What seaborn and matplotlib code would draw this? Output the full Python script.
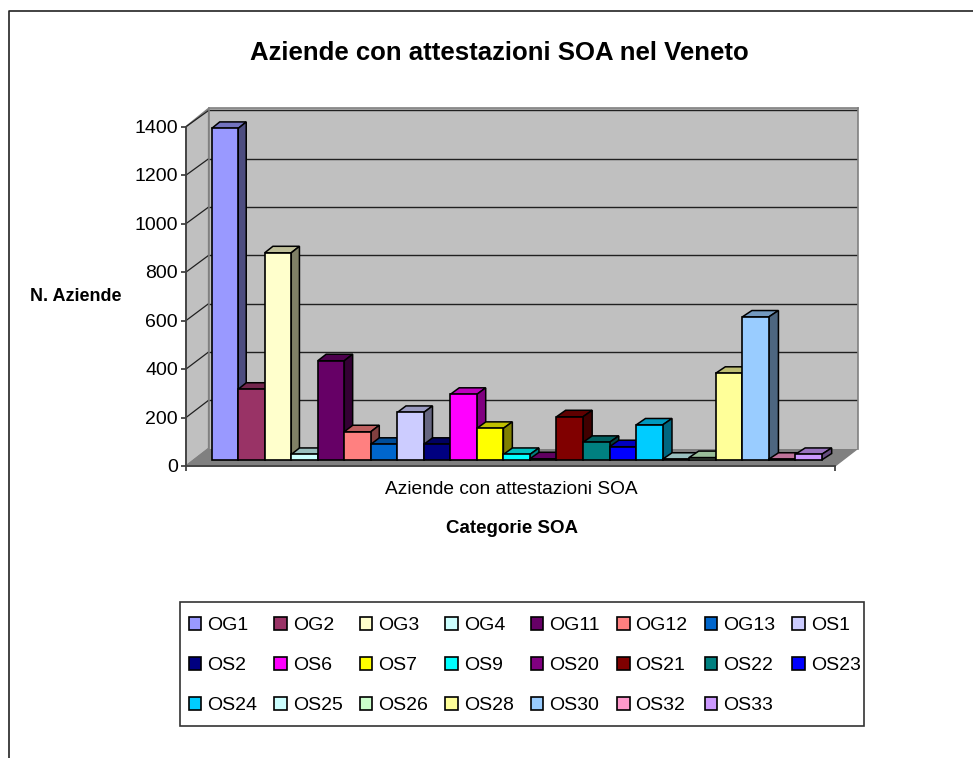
import matplotlib
matplotlib.use("Agg")
import matplotlib.pyplot as plt
from matplotlib.lines import Line2D
from matplotlib.patches import Patch, Polygon, Rectangle
from matplotlib.transforms import ScaledTranslation
import numpy as np
import pandas as pd
import seaborn as sns

# Data
categories = ["OG1", "OG2", "OG3", "OG4", "OG11", "OG12", "OG13", "OS1", "OS2", "OS6", "OS7", "OS9",
              "OS20", "OS21", "OS22", "OS23", "OS24", "OS25", "OS26", "OS28", "OS30", "OS32", "OS33"]
aziende = [1373, 293, 858, 23, 411, 117, 65, 197, 65, 272, 131, 23,
           5, 179, 73, 55, 145, 3, 10, 359, 592, 3, 23]
colors = ["#9999FF", "#993366", "#FFFFCC", "#CCFFFF", "#660066", "#FF8080", "#0066CC", "#CCCCFF",
          "#000080", "#FF00FF", "#FFFF00", "#00FFFF", "#800080", "#800000", "#008080", "#0000FF",
          "#00CCFF", "#CCFFFF", "#CCFFCC", "#FFFF99", "#99CCFF", "#FF99CC", "#CC99FF"]
y_ticks = [0, 200, 400, 600, 800, 1000, 1200, 1400]

W, H = 973, 758
sns.set_theme(style="white")
plt.rcParams["font.family"] = ["Liberation Sans", "DejaVu Sans"]

fig = plt.figure(figsize=(W / 100, H / 100), dpi=100, facecolor="white")

# pixel helpers, y counted from the top of the image
def fx(px):
    return px / W

def fy(py):
    return 1 - py / H

def box(left, top, right, bottom):
    return [fx(left), fy(bottom), fx(right) - fx(left), fy(top) - fy(bottom)]

def fig_poly(points, **kw):
    fig.add_artist(Polygon([(fx(x), fy(y)) for x, y in points], transform=fig.transFigure, **kw))

def fig_line(xs, ys, **kw):
    fig.add_artist(Line2D([fx(x) for x in xs], [fy(y) for y in ys], transform=fig.transFigure, **kw))

# outer frame of the pasted chart
fig_line([9, 9, 973], [758, 11, 11], color="#222222", lw=1.2)

# chart geometry
px_per_unit = 0.2415
front_x, front_zero, front_top = 186, 466, 126.7
front_scale = (front_zero - front_top) / 1400
back_x, back_right, back_zero = 208.7, 857.7, 448.5
back_top = back_zero - 1400 * px_per_unit - 2
bar_left, bar_px, bar_zero = 211.7, 26.52, 460
front_right = 835

# side wall and floor
fig_poly([(front_x, front_zero), (back_x, back_zero), (back_x, back_top), (front_x, front_top)],
         facecolor="#C0C0C0", edgecolor="#808080", lw=1.2, zorder=0)
fig_poly([(front_x, front_zero), (back_x, back_zero), (back_right, back_zero), (front_right, front_zero)],
         facecolor="#808080", edgecolor="#808080", lw=1, zorder=0.5)

# back wall, gridlines come from its own y axis
ax_wall = fig.add_axes(box(back_x, back_top, back_right, back_zero), zorder=1)
ax_wall.set_facecolor("#C0C0C0")
ax_wall.set_xlim(0, 1)
ax_wall.set_ylim(0, 1400 + 2 / px_per_unit)
ax_wall.set_yticks(y_ticks[1:])
ax_wall.set_xticks([])
ax_wall.set_yticklabels([])
ax_wall.grid(axis="y", color="#202020", lw=1)
ax_wall.tick_params(left=False)
for s in ax_wall.spines.values():
    s.set_color("#808080")
    s.set_linewidth(1.2)
ax_wall.spines["bottom"].set_visible(False)

# gridlines running across the side wall
for t in y_ticks[1:]:
    fig_line([front_x, back_x], [front_zero - t * front_scale, back_zero - t * px_per_unit],
             color="#202020", lw=0.9, zorder=0.8)

# front axis with the tick labels
ax_front = fig.add_axes(box(front_x, front_top, front_right, front_zero), zorder=2)
ax_front.patch.set_alpha(0)
ax_front.set_xlim(0, 1)
ax_front.set_ylim(0, 1400)
ax_front.set_yticks(y_ticks)
ax_front.set_xticks([0, 1])
ax_front.set_xticklabels([])
ax_front.tick_params(axis="both", left=True, bottom=True, length=3.4, width=1.2, color="#333333",
                     labelsize=14, labelcolor="black", pad=2.5)
for label in ax_front.get_yticklabels():
    label.set_transform(label.get_transform() + ScaledTranslation(0, 0.5 / 100, fig.dpi_scale_trans))
ax_front.spines["left"].set_color("#404040")
ax_front.spines["bottom"].set_color("#404040")
ax_front.spines["left"].set_linewidth(1.3)
ax_front.spines["bottom"].set_linewidth(1.3)
ax_front.spines["top"].set_visible(False)
ax_front.spines["right"].set_visible(False)
ax_front.set_ylabel("N. Aziende", fontsize=13, fontweight="bold", rotation=0, color="black")
ax_front.yaxis.set_label_coords((76 - front_x) / (front_right - front_x), 0.5)
ax_front.yaxis.label.set_va("center")

# bars
df = pd.DataFrame({"categoria": categories, "aziende": aziende})
ax = fig.add_axes(box(bar_left, bar_zero - 1400 * px_per_unit, bar_left + 23 * bar_px, bar_zero), zorder=3)
sns.barplot(data=df, x="categoria", y="aziende", hue="categoria", palette=colors, saturation=1, width=1,
            dodge=False, legend=False, edgecolor="black", linewidth=1.2, ax=ax)
ax.set_xlim(-0.5, 22.5)
ax.set_ylim(0, 1400)
ax.axis("off")

# depth faces, derived from each bar
bars = sorted(ax.patches, key=lambda p: p.get_x())
for i, (bar, col) in enumerate(zip(bars, colors)):
    bar.set_zorder(3 * i + 5)
    bar.set_clip_on(False)
    x0, x1 = bar.get_x(), bar.get_x() + bar.get_width()
    h = bar.get_height()
    dx = (8 + 2 * i / 22) / bar_px
    dy = 6.5 / px_per_unit
    rgb = np.array(matplotlib.colors.to_rgb(col))
    ax.add_patch(Polygon([(x0, h), (x1, h), (x1 + dx, h + dy), (x0 + dx, h + dy)], facecolor=rgb * 0.75,
                         edgecolor="black", lw=1.1, clip_on=False, zorder=3 * i + 4))
    ax.add_patch(Polygon([(x1, 0), (x1, h), (x1 + dx, h + dy), (x1 + dx, dy)], facecolor=rgb * 0.5,
                         edgecolor="black", lw=1.1, clip_on=False, zorder=3 * i + 4))

# texts
fig.text(fx(499), fy(53.5), "Aziende con attestazioni SOA nel Veneto", fontsize=18.5, fontweight="bold",
         ha="center", va="center", color="black")
fig.text(fx(511.5), fy(489.5), "Aziende con attestazioni SOA", fontsize=13.8, ha="center", va="center", color="black")
fig.text(fx(512), fy(528.5), "Categorie SOA", fontsize=13.5, fontweight="bold", ha="center", va="center", color="black")

# legend box drawn apart so the rows can keep their own spacing
fig.add_artist(Rectangle((fx(179.5), fy(725.5)), fx(864) - fx(179.5), fy(602) - fy(725.5), transform=fig.transFigure,
                         facecolor="white", edgecolor="#333333", lw=1.2))

# matplotlib fills columns first so the rows are handed over column by column
handles = [Patch(facecolor=c, edgecolor="black", lw=1.2, label=n) for n, c in zip(categories, colors)]
ordered = [h for j in range(8) for h in handles[j::8]]
leg = fig.legend(handles=ordered, ncol=8, mode="expand", loc="center",
                 bbox_to_anchor=(fx(180.5), fy(727.5), fx(869) - fx(180.5), fy(602) - fy(725.5)),
                 bbox_transform=fig.transFigure, borderaxespad=0, fontsize=14, frameon=False,
                 handlelength=0.64, handleheight=0.64, handletextpad=0.3,
                 labelspacing=1.17, borderpad=0.43, columnspacing=1.0)
for t in leg.get_texts():
    t.set_color("black")

fig.savefig("out.png", dpi=100, facecolor="white")
